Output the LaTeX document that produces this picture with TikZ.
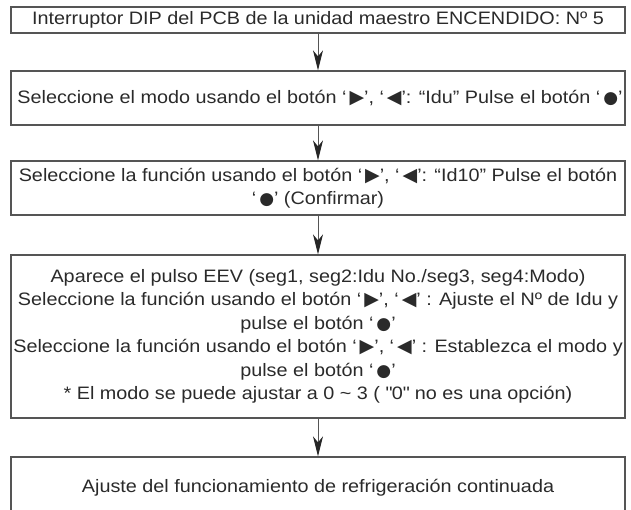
\documentclass[tikz,border=0pt]{standalone}
\usepackage{fontspec}
\setmainfont{Liberation Sans}[FakeStretch=1.1]
\newfontfamily\symfont{DejaVu Sans}
\usetikzlibrary{arrows.meta}
\newcommand\myR{\,{\symfont\fontsize{19}{19}\selectfont ▶}}
\newcommand\myL{\,{\symfont\fontsize{19}{19}\selectfont ◀}}
\newcommand\myB{\,{\symfont\fontsize{17}{17}\selectfont ●}}
\definecolor{lineclr}{HTML}{555555}
\definecolor{txtclr}{HTML}{2A2A2A}
\tikzset{
  stepbox/.style={draw=lineclr, line width=1.3pt, minimum width=614pt, inner sep=0pt},
  steptext/.style={text=txtclr, align=center, inner sep=0pt,
    font=\fontsize{18}{23.5}\selectfont},
  flow/.style={draw=lineclr, line width=1pt,
    -{Stealth[length=20pt,width=10pt,inset=6pt,color=black!85]}}
}
\begin{document}
\begin{tikzpicture}[x=1pt,y=1pt]
\useasboundingbox (0,0) rectangle (631,-509);
\clip (0,0) rectangle (631,-509);
\node[stepbox, minimum height=26pt] (b1) at (318,-20) {};
\node[stepbox, minimum height=54pt] (b2) at (318,-98) {};
\node[stepbox, minimum height=54pt] (b3) at (318,-188) {};
\node[stepbox, minimum height=163pt] (b4) at (318,-336.5) {};
\node[stepbox, minimum height=62pt] (b5) at (318,-488) {};
\node[steptext] (t1) at (b1) {Interruptor DIP del PCB de la unidad maestro ENCENDIDO: Nº 5};
\node[steptext] (t2) at (320,-98) {Seleccione el modo usando el botón ‘\myR’, ‘\myL’: “Idu” Pulse el botón ‘\myB’};
\node[steptext] (t3) at (b3) {Seleccione la función usando el botón ‘\myR’, ‘\myL’: “Id10” Pulse el botón\\ ‘\myB’ (Confirmar)};
\node[steptext] (t4) at (b4) {Aparece el pulso EEV (seg1, seg2:Idu No./seg3, seg4:Modo)\\
Seleccione la función usando el botón ‘\myR’, ‘\myL’ : Ajuste el Nº de Idu y\\
pulse el botón ‘\myB’\\
Seleccione la función usando el botón ‘\myR’, ‘\myL’ : Establezca el modo y\\
pulse el botón ‘\myB’\\
* El modo se puede ajustar a 0 \textasciitilde{} 3 ( \textquotedbl0\textquotedbl{} no es una opción)};
\node[steptext] (t5) at (b5) {Ajuste del funcionamiento de refrigeración continuada};
\draw[flow] (b1.south) -- (b2.north);
\draw[flow] (b2.south) -- (b3.north);
\draw[flow] (b3.south) -- (b4.north);
\draw[flow] (b4.south) -- (b5.north);
\end{tikzpicture}
\end{document}
